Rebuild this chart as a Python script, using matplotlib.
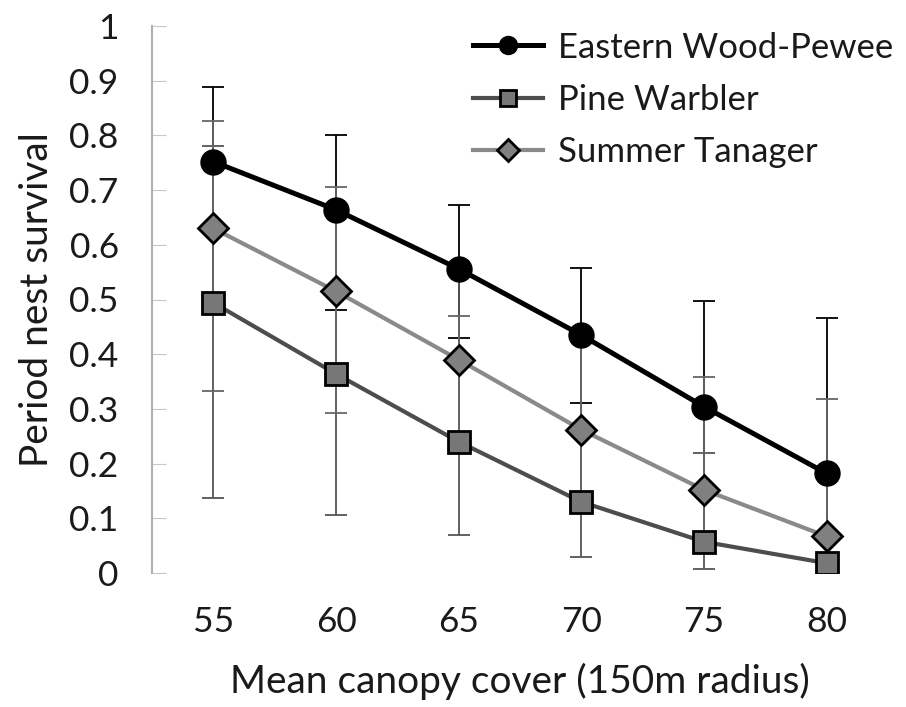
import numpy as np
import matplotlib
matplotlib.use("Agg")
import matplotlib.pyplot as plt

plt.rcParams['font.family'] = ['Lato', 'DejaVu Sans']

canopy = [55, 60, 65, 70, 75, 80]

pewee = [0.752, 0.664, 0.556, 0.435, 0.304, 0.182]
pewee_lo = [0.500, 0.481, 0.430, 0.310, 0.160, 0.060]
pewee_hi = [0.888, 0.800, 0.673, 0.557, 0.498, 0.466]

warbler = [0.494, 0.364, 0.240, 0.130, 0.057, 0.018]
warbler_lo = [0.137, 0.106, 0.070, 0.030, 0.007, 0.003]
warbler_hi = [0.781, 0.664, 0.556, 0.430, 0.219, 0.180]

tanager = [0.630, 0.515, 0.390, 0.262, 0.152, 0.067]
tanager_lo = [0.332, 0.292, 0.240, 0.130, 0.054, 0.015]
tanager_hi = [0.826, 0.705, 0.470, 0.430, 0.359, 0.318]

series = [
    ("Eastern Wood-Pewee", pewee, pewee_lo, pewee_hi,
     dict(color="black", lw=3.6, marker="o", ms=18, mfc="black", mec="black"), "black"),
    ("Pine Warbler", warbler, warbler_lo, warbler_hi,
     dict(color="#4d4d4d", lw=3.0, marker="s", ms=16, mfc="#777777", mec="black", mew=2), "#555555"),
    ("Summer Tanager", tanager, tanager_lo, tanager_hi,
     dict(color="#8a8a8a", lw=3.0, marker="D", ms=15, mfc="#808080", mec="black", mew=2), "#666666"),
]

fig = plt.figure(figsize=(9.06, 7.07), dpi=100)
ax = fig.add_axes([152 / 906, 1 - 573 / 707, (888 - 152) / 906, (573 - 26) / 707])

for name, vals, lo, hi, style, ecol in series:
    vals = np.array(vals)
    yerr = [vals - np.array(lo), np.array(hi) - vals]
    ax.errorbar(canopy, vals, yerr=yerr, fmt="none", ecolor=ecol,
                elinewidth=1.3, capsize=8, capthick=1.3, zorder=2)

handles = []
for name, vals, lo, hi, style, ecol in series:
    h, = ax.plot(canopy, vals, label=name, zorder=3, **style)
    handles.append(h)

ax.set_xlim(52.5, 82.5)
ax.set_ylim(0, 1)
ax.set_xticks(canopy)
ax.set_yticks(np.arange(0, 1.01, 0.1))
ax.set_yticklabels(["0", "0.1", "0.2", "0.3", "0.4", "0.5", "0.6", "0.7",
                    "0.8", "0.9", "1"])

for side in ["top", "right", "bottom"]:
    ax.spines[side].set_visible(False)
ax.spines["left"].set_color("#b0b0b0")
ax.spines["left"].set_linewidth(1.5)

ax.tick_params(axis="y", direction="in", length=10, color="#c8c8c8",
               labelsize=25.5, pad=24, labelcolor="#1a1a1a")
ax.tick_params(axis="x", length=0, labelsize=25.5, pad=24, labelcolor="#1a1a1a")

ax.set_xlabel("Mean canopy cover (150m radius)", fontsize=28, labelpad=18,
              color="#1a1a1a")
ax.set_ylabel("Period nest survival", fontsize=28, labelpad=10, color="#1a1a1a")

leg = ax.legend(handles=handles, loc="upper right", bbox_to_anchor=(1.05, 1.047),
                frameon=False, fontsize=25, handlelength=2.0, handletextpad=0.45,
                labelspacing=0.58, markerscale=0.72)
for t in leg.get_texts():
    t.set_color("#1a1a1a")

fig.savefig("out.png", dpi=100, facecolor="white")
